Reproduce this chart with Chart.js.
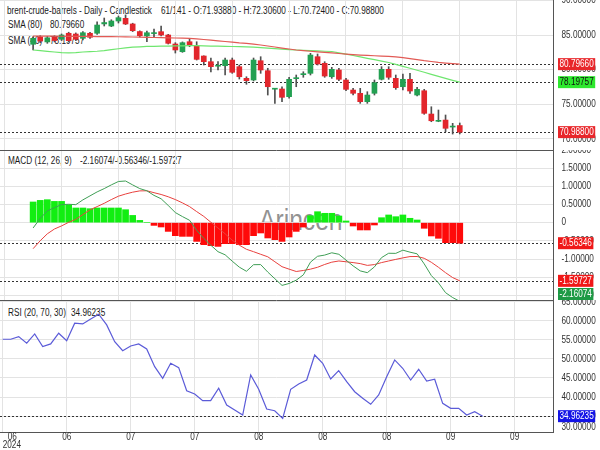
<!DOCTYPE html>
<html><head><meta charset="utf-8">
<script src="https://cdn.jsdelivr.net/npm/chart.js@4.4.1/dist/chart.umd.min.js"></script>
<style>
html,body{margin:0;padding:0;background:#fff;width:600px;height:450px;overflow:hidden}
#wrap{position:relative;width:600px;height:450px;font-family:'Liberation Sans',Arial,sans-serif}
canvas{position:absolute;left:0}
.t{position:absolute;font-size:10px;color:#1a1a1a;white-space:pre;line-height:12px;transform:scaleX(0.82);transform-origin:0 0}
#wm{position:absolute;left:259px;top:204px;font-size:29px;color:rgba(110,110,110,0.75);line-height:32px;transform:scaleX(0.85);transform-origin:0 0;white-space:pre}
</style></head><body>
<div id="wrap">
<div class="t" style="left:7px;top:5px">brent-crude-barrels - Daily - Candlestick</div>
<div class="t" style="left:161px;top:5px">61/141 - O:71.93880 - H:72.30600 - L:70.72400 - C:70.98800</div>
<div class="t" style="left:8px;top:19px">SMA (80)</div>
<div class="t" style="left:50px;top:19px" id="v80"></div>
<div class="t" style="left:8px;top:35px">SMA (40)</div>
<div class="t" style="left:50px;top:35px" id="v40"></div>
<div class="t" style="left:8px;top:155px">MACD (12, 26, 9)</div>
<div class="t" style="left:80px;top:155px" id="vmacd"></div>
<div class="t" style="left:8px;top:307px">RSI (20, 70, 30)</div>
<div class="t" style="left:71px;top:307px" id="vrsi"></div>
<div id="wm">Arincen</div>
<canvas id="c1" width="600" height="150" style="top:0"></canvas>
<canvas id="c2" width="600" height="150" style="top:150px"></canvas>
<canvas id="c3" width="600" height="150" style="top:300px"></canvas>
</div>
<script>
// ---------- DATA ----------
const xTickIndex=[0,8,16,24,32,40,48,56,64];
const xTickLabels=['06','06','07','07','08','08','08','09','09'];
const yearLabel='2024';
const priceTicks=[70,75,80,85,90];
const macdTicks=[-2,-1.5,-1,-0.5,0,0.5,1,1.5,2];
const rsiTicks=[35,40,45,50,55,60,65];
const rsiExtraTick=30;

const open =[83.66,84.71,84.00,84.70,84.38,85.25,85.14,84.52,85.25,85.25,86.60,86.30,87.02,87.41,86.59,85.50,84.86,85.20,85.48,85.00,83.70,82.59,84.03,83.41,81.97,81.15,80.50,80.57,81.39,80.43,78.75,78.51,81.29,79.85,77.18,77.21,76.10,78.70,79.28,79.47,81.87,80.92,78.98,79.95,78.51,77.06,76.59,75.38,76.59,78.61,80.05,78.75,77.54,78.61,76.34,76.96,73.60,72.55,72.73,71.72,71.9388];
const high =[84.71,84.90,84.80,84.90,85.15,85.40,85.30,85.50,85.40,86.90,87.45,87.20,87.74,87.90,86.70,85.60,85.58,85.87,86.30,85.10,83.89,84.00,84.52,84.03,82.00,81.68,81.15,81.68,81.68,80.67,78.98,81.68,81.87,80.20,77.31,77.54,78.90,79.23,79.70,82.36,82.26,81.15,80.34,80.20,78.75,77.31,77.31,76.82,78.51,80.43,80.43,79.23,79.37,79.47,77.45,77.16,74.65,74.18,73.46,72.26,72.306];
const low  =[82.84,83.90,83.80,84.00,84.20,84.00,84.20,84.30,84.50,85.10,86.30,86.20,86.73,86.50,85.50,84.70,84.03,84.75,84.86,83.70,82.40,82.50,83.31,81.39,80.67,79.66,79.95,79.23,79.47,78.65,77.89,78.37,79.47,76.34,75.14,75.38,75.90,77.54,78.90,79.23,80.67,78.90,78.75,78.41,76.96,76.34,75.14,75.14,76.34,78.51,78.61,77.16,77.06,76.59,76.20,73.56,72.49,72.49,71.05,70.71,70.724];
const close=[84.52,84.13,84.60,84.20,85.00,84.18,84.38,85.33,84.67,86.44,86.80,87.02,87.50,86.59,85.62,84.90,85.33,85.28,85.00,83.80,82.84,83.89,83.56,81.49,81.15,80.43,80.56,81.39,79.62,78.98,78.41,81.39,79.95,77.54,77.24,76.01,78.61,78.78,79.36,82.11,80.82,79.08,80.05,78.61,77.16,76.59,75.38,76.34,78.12,80.05,78.90,77.40,78.61,76.92,77.16,73.70,72.63,72.62,71.54,71.80,70.988];
const sma80=[84.86,84.85,84.84,84.83,84.82,84.81,84.80,84.80,84.79,84.78,84.77,84.76,84.75,84.73,84.71,84.68,84.67,84.64,84.62,84.60,84.57,84.55,84.52,84.44,84.35,84.25,84.16,84.06,83.98,83.87,83.79,83.69,83.56,83.41,83.27,83.12,82.98,82.84,82.75,82.66,82.58,82.50,82.42,82.33,82.24,82.17,82.10,82.05,82.01,81.96,81.91,81.85,81.74,81.59,81.46,81.30,81.18,81.05,80.95,80.87,80.7966];
const sma40=[82.84,82.75,82.65,82.55,82.46,82.42,82.47,82.55,82.60,82.66,82.76,82.89,83.02,83.15,83.24,83.30,83.35,83.37,83.40,83.41,83.43,83.44,83.46,83.46,83.44,83.41,83.40,83.37,83.34,83.31,83.28,83.25,83.18,83.11,83.04,82.97,82.89,82.84,82.79,82.75,82.71,82.66,82.62,82.43,82.23,82.04,81.84,81.64,81.44,81.23,81.03,80.77,80.48,80.20,79.92,79.63,79.33,79.03,78.74,78.46,78.19757];
const macdLine=[-0.145,0.118,0.327,0.412,0.497,0.506,0.495,0.627,0.737,0.846,0.937,1.039,1.132,1.145,1.038,0.937,0.876,0.750,0.657,0.473,0.278,0.168,0.066,-0.209,-0.431,-0.621,-0.797,-0.882,-1.058,-1.222,-1.335,-1.154,-1.151,-1.357,-1.541,-1.723,-1.670,-1.580,-1.433,-1.085,-0.923,-0.890,-0.827,-0.868,-1.027,-1.187,-1.324,-1.373,-1.214,-0.959,-0.840,-0.843,-0.755,-0.810,-0.855,-1.132,-1.453,-1.654,-1.923,-2.057,-2.16074];
const signalLine=[-0.714,-0.495,-0.305,-0.173,-0.088,0.011,0.091,0.223,0.352,0.442,0.533,0.635,0.728,0.788,0.838,0.874,0.876,0.824,0.775,0.712,0.635,0.544,0.442,0.305,0.173,0.011,-0.146,-0.305,-0.481,-0.618,-0.731,-0.797,-0.868,-0.937,-1.074,-1.209,-1.277,-1.341,-1.313,-1.277,-1.225,-1.148,-1.085,-1.052,-1.074,-1.096,-1.124,-1.173,-1.151,-1.096,-1.052,-1.008,-0.967,-0.931,-0.929,-0.978,-1.088,-1.225,-1.374,-1.508,-1.59727];
const histogram=[0.569,0.613,0.632,0.585,0.585,0.495,0.404,0.404,0.385,0.404,0.404,0.404,0.404,0.357,0.200,0.063,0,-0.074,-0.118,-0.239,-0.357,-0.376,-0.376,-0.514,-0.604,-0.632,-0.651,-0.577,-0.577,-0.604,-0.604,-0.357,-0.283,-0.420,-0.467,-0.514,-0.393,-0.239,-0.120,0.192,0.302,0.258,0.258,0.184,0.047,-0.091,-0.200,-0.200,-0.063,0.137,0.212,0.165,0.212,0.121,0.074,-0.154,-0.365,-0.429,-0.549,-0.549,-0.56346];
const rsi=[55.18,55.18,55.87,54.13,56.58,53.24,53.95,56.76,54.82,59.39,59.21,60.53,61.76,58.95,54.55,52.18,53.42,53.95,52.63,47.97,44.92,48.87,47.71,41.66,40.79,39.03,39.03,42.29,37.89,36.58,35.26,45.79,42.03,36.84,36.39,34.39,42.03,43.42,44.47,51.05,48.87,44.74,46.92,44.03,41.39,39.66,38.08,40.53,45.34,49.74,47.55,44.47,47.29,44.21,44.66,38.34,37.03,37.03,35.26,36.13,34.96235];

// ---------- STYLE ----------
const FONT="'Liberation Sans',Arial,sans-serif";
const NARROW=0.82;
Chart.defaults.font.family=FONT; Chart.defaults.font.size=10; Chart.defaults.color='#333';
const UP='#23a052', DN='#e2262c', WICK='#505050', GRID='#e3e3e3', AXIS='#555';
const last=a=>a[a.length-1];
const f5=v=>v.toFixed(5);
document.getElementById('v80').textContent=f5(last(sma80));
document.getElementById('v40').textContent=f5(last(sma40));
document.getElementById('vmacd').textContent=f5(last(macdLine))+'/'+f5(last(histogram))+'/'+f5(last(signalLine));
document.getElementById('vrsi').textContent=f5(last(rsi));

const labels=open.map((_,i)=>i);
const isUp=open.map((o,i)=>close[i]>=o);

function nText(ctx,txt,x,y,align){
  ctx.save(); ctx.translate(x,y); ctx.scale(NARROW,1);
  ctx.textAlign=align||'left'; ctx.fillText(txt,0,0); ctx.restore();
}
function xScale(show){
  return {type:'linear',min:-0.3375,max:68.79,
    afterBuildTicks:s=>{s.ticks=xTickIndex.map(v=>({value:v}));},
    grid:{color:GRID,drawTicks:false},
    border:{display:show,color:AXIS},
    ticks:{display:false},
    afterFit:s=>{ s.height = show?18:0; s.paddingLeft=0; s.paddingRight=0; }
  };
}
function yScale(min,max,ticks){
  return {type:'linear',position:'right',min,max,
    afterBuildTicks:s=>{s.ticks=ticks.map(v=>({value:v}));},
    grid:{color:GRID,drawTicks:false},
    border:{display:true,color:AXIS},
    ticks:{display:false},
    afterFit:s=>{s.width=47; s.paddingTop=0; s.paddingBottom=0;}
  };
}
const annot={
  id:'annot',
  beforeDatasetsDraw(chart,args,o){
    const {ctx,chartArea:a}=chart, y=chart.scales.y;
    (o.lines||[]).forEach(v=>{
      const py=Math.round(y.getPixelForValue(v))+0.5;
      ctx.save();ctx.setLineDash([2,2]);ctx.strokeStyle='#333';ctx.lineWidth=1;
      ctx.beginPath();ctx.moveTo(a.left,py);ctx.lineTo(a.right,py);ctx.stroke();ctx.restore();
    });
  },
  afterDraw(chart,args,o){
    const {ctx,chartArea:a}=chart, y=chart.scales.y, x=chart.scales.x;
    ctx.save();
    if(o.sep){ctx.strokeStyle=AXIS;ctx.lineWidth=1;ctx.beginPath();ctx.moveTo(0,a.top+0.5);ctx.lineTo(a.right,a.top+0.5);ctx.stroke();}
    ctx.font='10px '+FONT; ctx.textBaseline='middle';
    ctx.fillStyle='#333';
    y.ticks.forEach(t=>nText(ctx,o.fmt(t.value),a.right+8.5,y.getPixelForValue(t.value)));
    (o.extra||[]).forEach(v=>{
      const py=Math.min(y.getPixelForValue(v),a.bottom-4.5);
      nText(ctx,f5(v),a.right+8.5,py);
    });
    (o.tags||[]).forEach(t=>{
      const txt=f5(t.value), w=ctx.measureText(txt).width*NARROW, h=12;
      let top=y.getPixelForValue(t.value)-h/2;
      top=Math.max(a.top,Math.min(a.bottom-h,top));
      ctx.fillStyle=t.bg; ctx.fillRect(a.right+5,top,w+3,h);
      ctx.fillStyle=t.fg; nText(ctx,txt,a.right+6.5,top+h/2+0.5);
    });
    if(o.xlabels){
      ctx.fillStyle='#333';
      x.ticks.forEach((t,i)=>{
        const px=x.getPixelForValue(t.value);
        if(i===0){
          nText(ctx,xTickLabels[0],px+9.5,a.bottom+5,'center');
          nText(ctx,yearLabel,px,a.bottom+13.5,'left');
        } else nText(ctx,xTickLabels[i],px,a.bottom+5,'center');
      });
    }
    ctx.restore();
  }
};
const base={responsive:false,animation:false,events:[],layout:{padding:0},
  plugins:{legend:{display:false},tooltip:{enabled:false}}};

// ---------- PRICE ----------
new Chart(document.getElementById('c1'),{
  data:{labels,datasets:[
    {type:'line',data:sma80,borderColor:'#e25a55',borderWidth:1.2,pointRadius:0,order:0},
    {type:'line',data:sma40,borderColor:'#6fe66f',borderWidth:1.2,pointRadius:0,order:0},
    {type:'bar',data:open.map((o,i)=>[o,close[i]]),backgroundColor:isUp.map(u=>u?UP:DN),barThickness:5,minBarLength:1,grouped:false,order:1},
    {type:'bar',data:low.map((l,i)=>[l,high[i]]),backgroundColor:WICK,barThickness:1,grouped:false,order:2}
  ]},
  options:{...base,scales:{x:xScale(false),y:yScale(68.41,90.05,priceTicks)},
    plugins:{...base.plugins,annot:{fmt:v=>f5(v),lines:[last(sma80),last(sma40),last(close)],
      tags:[{value:last(sma80),bg:'#e8262a',fg:'#fff'},{value:last(sma40),bg:'#2ee82e',fg:'#111'},{value:last(close),bg:'#e8262a',fg:'#fff'}]}}},
  plugins:[annot]
});
// ---------- MACD ----------
new Chart(document.getElementById('c2'),{
  data:{labels,datasets:[
    {type:'line',data:macdLine,borderColor:'#3f9e55',borderWidth:1,pointRadius:0,order:0},
    {type:'line',data:signalLine,borderColor:'#e8413e',borderWidth:1,pointRadius:0,order:0},
    {type:'bar',data:histogram,backgroundColor:histogram.map(v=>v>=0?'#12ee12':'#ff0a0a'),barThickness:6,order:1}
  ]},
  options:{...base,scales:{x:xScale(false),y:yScale(-2.124,1.997,macdTicks)},
    plugins:{...base.plugins,annot:{sep:true,fmt:v=>v===0?'0':f5(v),lines:[last(histogram),last(signalLine)],
      tags:[{value:last(histogram),bg:'#f01818',fg:'#fff'},{value:last(signalLine),bg:'#f01818',fg:'#fff'},{value:last(macdLine),bg:'#1e9a45',fg:'#fff'}]}}},
  plugins:[annot]
});
// ---------- RSI ----------
new Chart(document.getElementById('c3'),{
  data:{labels,datasets:[
    {type:'line',data:rsi,borderColor:'#5b5bd8',borderWidth:1.2,pointRadius:0}
  ]},
  options:{...base,scales:{x:xScale(true),y:yScale(30.8,65.5,rsiTicks)},
    plugins:{...base.plugins,annot:{sep:true,xlabels:true,fmt:v=>f5(v),lines:[last(rsi)],extra:[rsiExtraTick],
      tags:[{value:last(rsi),bg:'#1414e6',fg:'#fff'}]}}},
  plugins:[annot]
});
</script>
</body></html>
